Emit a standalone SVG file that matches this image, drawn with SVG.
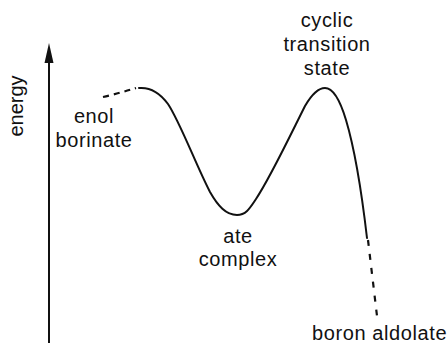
<svg xmlns="http://www.w3.org/2000/svg" width="448" height="343" viewBox="0 0 448 343">
<style>
.t{font-family:"Liberation Sans",Arial,sans-serif;font-size:20px;fill:#111;letter-spacing:0.6px}
.c{fill:none;stroke:#111;stroke-width:2;stroke-linecap:round;stroke-linejoin:round}
.d{fill:none;stroke:#111;stroke-width:2.2}
</style>
<rect width="448" height="343" fill="#fff"/>
<g id="axis">
<line x1="49" y1="60" x2="49" y2="343" stroke="#111" stroke-width="2"/>
<polygon points="49,43 44.5,63 53.5,63" fill="#111"/>
<text class="t" style="letter-spacing:0" transform="translate(23,106) rotate(-90)" text-anchor="middle">energy</text>
</g>
<g id="connectors">
<path class="d" d="M103,97 Q120,93 136,88" stroke-dasharray="6,5"/>
<path class="c" d="M139,88 C150,87 160,93 168,104 C180,122 196,165 210,192 C218,206 226,215 237,215 C246,215 250,208 256,199 C270,178 288,140 305,106 C312,94 318,88 325,88 C333,88 340,100 346,120 C355,150 362,195 367,238"/>
<path class="d" d="M368,240 L377,316" stroke-dasharray="6,8"/>
</g>
<g id="enol-borinate">
<text class="t" x="94" y="123" text-anchor="middle">enol</text>
<text class="t" x="94" y="147" text-anchor="middle">borinate</text>
</g>
<g id="transition-state">
<text class="t" x="327" y="27" text-anchor="middle">cyclic</text>
<text class="t" x="327" y="51" text-anchor="middle">transition</text>
<text class="t" x="327" y="75" text-anchor="middle">state</text>
</g>
<g id="ate-complex">
<text class="t" x="238" y="243" text-anchor="middle">ate</text>
<text class="t" x="238" y="266" text-anchor="middle">complex</text>
</g>
<g id="boron-aldolate">
<text class="t" x="312" y="340">boron aldolate</text>
</g>
</svg>
